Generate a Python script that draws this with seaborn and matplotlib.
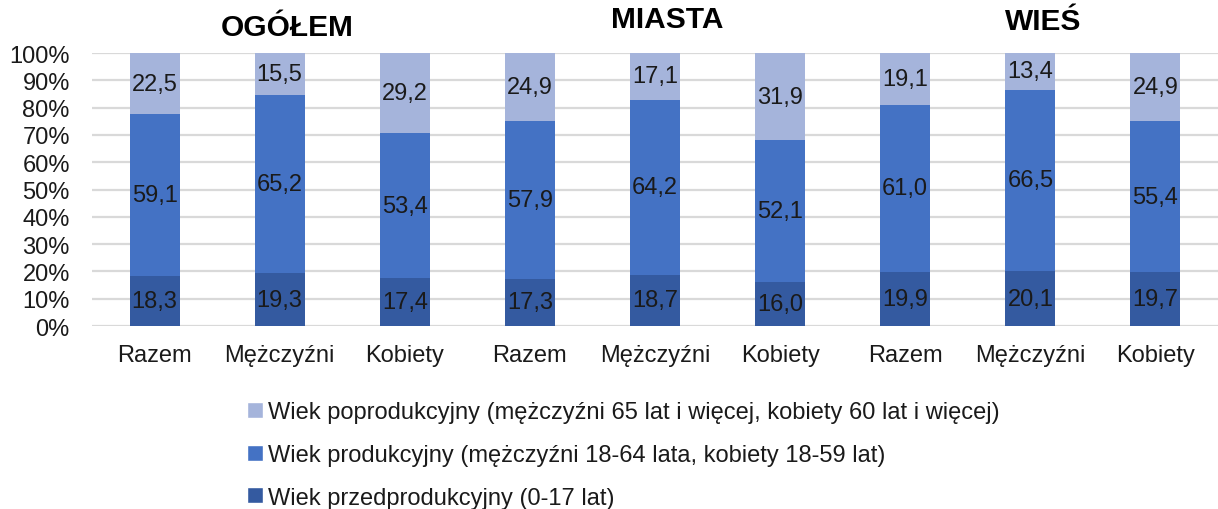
import numpy as np
import pandas as pd
import matplotlib
matplotlib.use("Agg")
import matplotlib.pyplot as plt
from matplotlib.patches import Patch
from matplotlib.transforms import blended_transform_factory
from matplotlib.ticker import PercentFormatter
import seaborn as sns

# ---- data ----
groups = ["OGÓŁEM", "MIASTA", "WIEŚ"]
subcats = ["Razem", "Mężczyźni", "Kobiety"]
przed = [18.3, 19.3, 17.4, 17.3, 18.7, 16.0, 19.9, 20.1, 19.7]
prod = [59.1, 65.2, 53.4, 57.9, 64.2, 52.1, 61.0, 66.5, 55.4]
popr = [22.5, 15.5, 29.2, 24.9, 17.1, 31.9, 19.1, 13.4, 24.9]
series_names = [
    "Wiek poprodukcyjny (mężczyźni 65 lat i więcej, kobiety 60 lat i więcej)",
    "Wiek produkcyjny (mężczyźni 18-64 lata, kobiety 18-59 lat)",
    "Wiek przedprodukcyjny (0-17 lat)",
]
colors = {"popr": "#A5B4DB", "prod": "#4472C4", "przed": "#345AA0"}

sns.set_theme(style="white")
plt.rcParams["font.family"] = ["Liberation Sans", "DejaVu Sans"]

ids = [f"{g}|{s}" for g in groups for s in subcats]
labels = [s for g in groups for s in subcats]
df = pd.DataFrame({"id": ids, "przed": przed, "prod": prod, "popr": popr})
tot = df[["przed", "prod", "popr"]].sum(axis=1)
df["c1"] = df["przed"] / tot * 100
df["c2"] = (df["przed"] + df["prod"]) / tot * 100
df["c3"] = (df["przed"] + df["prod"] + df["popr"]) / tot * 100

fig = plt.figure(figsize=(12.18, 5.10), dpi=100)
ax = fig.add_axes([92 / 1218, 1 - 327 / 510, 1 - 92 / 1218, (327 - 54) / 510])

for col, key in [("c3", "popr"), ("c2", "prod"), ("c1", "przed")]:
    sns.barplot(data=df, x="id", y=col, order=ids, color=colors[key],
                width=0.4, saturation=1, ax=ax, errorbar=None, linewidth=0)

FS = 17
# data labels
txtcolor = "#1a1a1a"
for i in range(len(ids)):
    segs = [(0, df["c1"][i], przed[i]),
            (df["c1"][i], df["c2"][i], prod[i]),
            (df["c2"][i], df["c3"][i], popr[i])]
    for lo, hi, v in segs:
        ax.text(i, (lo + hi) / 2, f"{v:.1f}".replace(".", ","), ha="center",
                va="center", fontsize=FS, color=txtcolor)

ax.set_xlim(-0.5, len(ids) - 0.5)
ax.set_ylim(0, 100)
ax.set_yticks(np.arange(0, 101, 10))
ax.yaxis.set_major_formatter(PercentFormatter(100, decimals=0))
ax.set_xticks(range(len(ids)))
ax.set_xticklabels(labels)
ax.set_xlabel("")
ax.set_ylabel("")
ax.tick_params(axis="x", length=0, pad=13, labelsize=FS, labelcolor=txtcolor)
ax.tick_params(axis="y", length=0, pad=16, labelsize=FS, labelcolor=txtcolor)
for lbl in ax.get_yticklabels():
    lbl.set_horizontalalignment("right")
ax.yaxis.grid(True, color="#D9D9D9", linewidth=1.6)
ax.set_axisbelow(True)
for s in ax.spines.values():
    s.set_visible(False)

# group titles
tr = blended_transform_factory(ax.transData, fig.transFigure)
title_pos = [(1.06, 1 - 28 / 510), (4.1, 1 - 20 / 510), (7.1, 1 - 22 / 510)]
for g, (x, y) in zip(groups, title_pos):
    ax.text(x, y, g, transform=tr, ha="center", va="center", fontsize=21.5,
            fontweight="bold", color="black")

# legend
handles = [Patch(facecolor=colors["popr"]), Patch(facecolor=colors["prod"]),
           Patch(facecolor=colors["przed"])]
fig.legend(handles, series_names, loc="upper left",
           bbox_to_anchor=(238 / 1218, 1 - 393 / 510), frameon=False,
           fontsize=FS, handlelength=0.65, handleheight=0.65,
           handletextpad=0.2, labelspacing=0.87, borderaxespad=0,
           labelcolor=txtcolor)

fig.savefig("out.png", dpi=100)
